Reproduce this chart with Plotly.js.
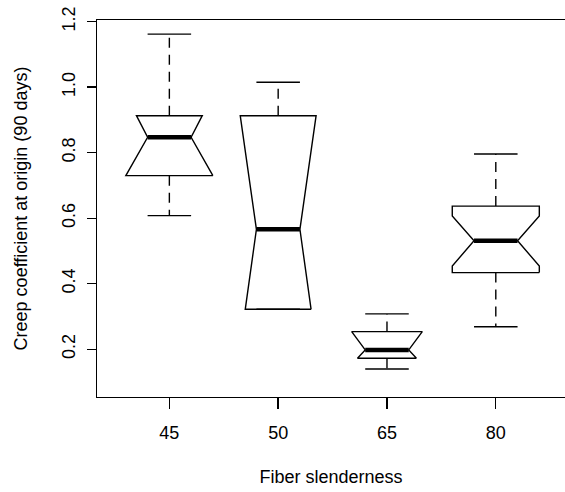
<!DOCTYPE html>
<html>
<head>
<meta charset="utf-8">
<script src="https://cdn.plot.ly/plotly-3.0.1.min.js"></script>
<style>html,body{margin:0;padding:0;background:#fff;}#chart{width:565px;height:492px;}</style>
</head>
<body>
<div id="chart"></div>
<script>
// ---- data ----
var categories = ['45', '50', '65', '80'];
var whiskerLow  = [0.608, 0.322, 0.140, 0.269];
var q1          = [0.730, 0.322, 0.1725, 0.434];
var medians     = [0.847, 0.566, 0.198, 0.5315];
var q3          = [0.913, 0.913, 0.254, 0.637];
var whiskerHigh = [1.162, 1.015, 0.308, 0.796];
var notchLow    = [0.730, 0.090, 0.126, 0.454];
var notchHigh   = [0.976, 1.033, 0.288, 0.607];
var yTicks = [0.2, 0.4, 0.6, 0.8, 1.0, 1.2];
var yTickText = ['0.2', '0.4', '0.6', '0.8', '1.0', '1.2'];

// ---- geometry helpers ----
var HALF = 0.4, NOTCH = 0.2, STAPLE = 0.2;
var traces = [];
var positions = categories.map(function (c, i) { return i + 1; });

positions.forEach(function (p, i) {
  var pts = []; // right side, bottom to top: [y, half]
  if (notchLow[i] >= q1[i]) {
    pts.push([q1[i], HALF]);
    if (notchLow[i] > q1[i]) pts.push([notchLow[i], HALF]);
  } else {
    pts.push([q1[i], NOTCH + (HALF - NOTCH) * (medians[i] - q1[i]) / (medians[i] - notchLow[i])]);
  }
  pts.push([medians[i], NOTCH]);
  if (notchHigh[i] <= q3[i]) {
    if (notchHigh[i] < q3[i]) pts.push([notchHigh[i], HALF]);
    pts.push([q3[i], HALF]);
  } else {
    pts.push([q3[i], NOTCH + (HALF - NOTCH) * (q3[i] - medians[i]) / (notchHigh[i] - medians[i])]);
  }
  var xs = [], ys = [];
  pts.forEach(function (q) { xs.push(p + q[1]); ys.push(q[0]); });
  for (var k = pts.length - 1; k >= 0; k--) { xs.push(p - pts[k][1]); ys.push(pts[k][0]); }
  xs.push(xs[0]); ys.push(ys[0]);
  traces.push({
    type: 'scatter', mode: 'lines', x: xs, y: ys,
    fill: 'toself', fillcolor: '#ffffff',
    line: {color: '#000', width: 1.4}, hoverinfo: 'skip', showlegend: false
  });
});

// whiskers (dashed)
var wx = [], wy = [];
positions.forEach(function (p, i) {
  wx.push(p, p, null, p, p, null);
  wy.push(q3[i], whiskerHigh[i], null, q1[i], whiskerLow[i], null);
});
traces.push({type: 'scatter', mode: 'lines', x: wx, y: wy,
  line: {color: '#000', width: 1.4, dash: '10px,7px'}, hoverinfo: 'skip', showlegend: false});

// staples
var sx = [], sy = [];
positions.forEach(function (p, i) {
  sx.push(p - STAPLE, p + STAPLE, null, p - STAPLE, p + STAPLE, null);
  sy.push(whiskerHigh[i], whiskerHigh[i], null, whiskerLow[i], whiskerLow[i], null);
});
traces.push({type: 'scatter', mode: 'lines', x: sx, y: sy,
  line: {color: '#000', width: 1.4}, hoverinfo: 'skip', showlegend: false});

// medians
var mx = [], my = [];
positions.forEach(function (p, i) {
  mx.push(p - NOTCH, p + NOTCH, null);
  my.push(medians[i], medians[i], null);
});
traces.push({type: 'scatter', mode: 'lines', x: mx, y: my,
  line: {color: '#000', width: 4.5}, hoverinfo: 'skip', showlegend: false});

var font = {family: 'Liberation Sans, Arial, Helvetica, sans-serif', size: 18, color: '#000'};

var layout = {
  width: 565, height: 492,
  margin: {l: 97, r: 0, t: 20, b: 95},
  paper_bgcolor: '#fff', plot_bgcolor: '#fff',
  font: font,
  showlegend: false,
  xaxis: {
    range: [0.335, 4.636],
    tickmode: 'array', tickvals: positions, ticktext: categories,
    showline: true, mirror: true, linecolor: '#000', linewidth: 1.4,
    ticks: 'outside', ticklen: 11, tickwidth: 1.4, tickcolor: '#000',
    ticklabelstandoff: 8,
    showgrid: false, zeroline: false,
    tickfont: font,
    title: {text: 'Fiber slenderness', font: font, standoff: 28}
  },
  yaxis: {
    range: [0.0544, 1.205],
    tickmode: 'array', tickvals: yTicks, ticktext: yTickText,
    tickangle: -90,
    showline: true, mirror: false, linecolor: '#000', linewidth: 1.4,
    ticks: 'outside', ticklen: 9, tickwidth: 1.4, tickcolor: '#000',
    ticklabelstandoff: 4,
    showgrid: false, zeroline: false,
    tickfont: font,
    title: {text: 'Creep coefficient at origin (90 days)', font: font, standoff: 27}
  }
};

Plotly.newPlot('chart', traces, layout, {displayModeBar: false, staticPlot: true});
</script>
</body>
</html>
